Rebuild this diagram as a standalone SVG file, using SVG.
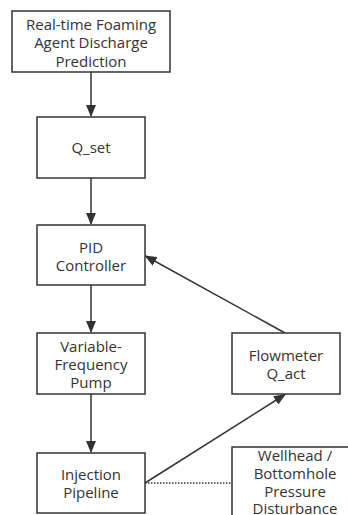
<svg xmlns="http://www.w3.org/2000/svg" width="348" height="515" viewBox="0 0 348 515">
<style>
.box{fill:#ffffff;stroke:#333333;stroke-width:1.5}
.lbl{font-family:"Open Sans","Noto Sans","Liberation Sans",sans-serif;font-size:15px;fill:#333333;text-anchor:middle}
.edge{fill:none;stroke:#333333;stroke-width:1.5}
.dot{fill:none;stroke:#333333;stroke-width:1.3;stroke-dasharray:1.5 1.5}
</style>
<defs>
<marker id="ah" markerWidth="12" markerHeight="10" refX="11" refY="5" orient="auto" markerUnits="userSpaceOnUse">
<path d="M0,0 L12,5 L0,10 Z" fill="#333333"/>
</marker>
</defs>
<rect width="348" height="515" fill="#ffffff"/>
<g id="connectors">
<line class="edge" x1="91" y1="72" x2="91" y2="116" marker-end="url(#ah)"/>
<line class="edge" x1="91" y1="178" x2="91" y2="224" marker-end="url(#ah)"/>
<line class="edge" x1="91" y1="285" x2="91" y2="332" marker-end="url(#ah)"/>
<line class="edge" x1="91" y1="394" x2="91" y2="452" marker-end="url(#ah)"/>
<line class="edge" x1="145" y1="483" x2="285" y2="394.5" marker-end="url(#ah)"/>
<line class="edge" x1="285" y1="333" x2="145.5" y2="256" marker-end="url(#ah)"/>
<line class="dot" x1="145" y1="483" x2="232" y2="483"/>
</g>
<g id="n1">
<rect class="box" x="12" y="11" width="158" height="61"/>
<text class="lbl" x="91" y="29.5">Real-time Foaming</text>
<text class="lbl" x="91" y="48">Agent Discharge</text>
<text class="lbl" x="91" y="66.5">Prediction</text>
</g>
<g id="n2">
<rect class="box" x="37" y="117" width="108" height="61"/>
<text class="lbl" x="91" y="153">Q_set</text>
</g>
<g id="n3">
<rect class="box" x="37" y="225" width="108" height="60"/>
<text class="lbl" x="91" y="252.5">PID</text>
<text class="lbl" x="91" y="270.5">Controller</text>
</g>
<g id="n4">
<rect class="box" x="37" y="333" width="108" height="61"/>
<text class="lbl" x="91" y="352">Variable-</text>
<text class="lbl" x="91" y="370">Frequency</text>
<text class="lbl" x="91" y="388">Pump</text>
</g>
<g id="n5">
<rect class="box" x="37" y="453" width="108" height="60"/>
<text class="lbl" x="91" y="479.5">Injection</text>
<text class="lbl" x="91" y="497.5">Pipeline</text>
</g>
<g id="n6">
<rect class="box" x="232" y="333" width="108" height="61"/>
<text class="lbl" x="286" y="361">Flowmeter</text>
<text class="lbl" x="286" y="379">Q_act</text>
</g>
<g id="n7">
<rect class="box" x="232" y="447" width="126" height="82"/>
<text class="lbl" x="295" y="461">Wellhead /</text>
<text class="lbl" x="295" y="479">Bottomhole</text>
<text class="lbl" x="295" y="497">Pressure</text>
<text class="lbl" x="295" y="514">Disturbance</text>
</g>
</svg>
